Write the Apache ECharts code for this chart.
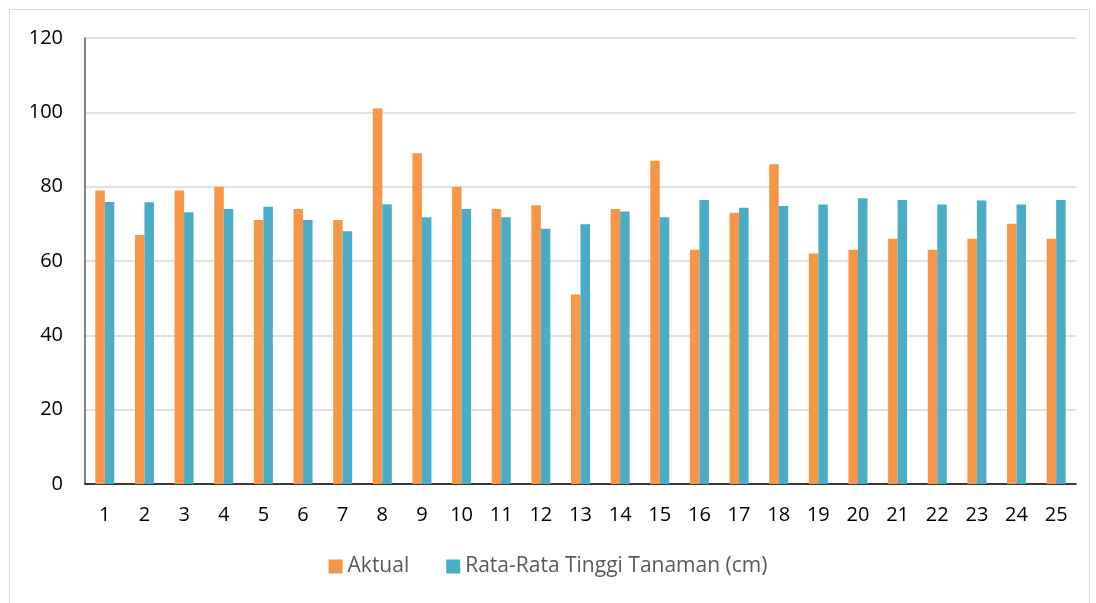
<!DOCTYPE html>
<html>
<head>
<meta charset="utf-8">
<script src="https://cdn.jsdelivr.net/npm/echarts@6/dist/echarts.min.js"></script>
<style>html,body{margin:0;padding:0;background:#fff}#c{width:1096px;height:603px}</style>
</head>
<body>
<div id="c"></div>
<script>
const categories = ['1','2','3','4','5','6','7','8','9','10','11','12','13','14','15','16','17','18','19','20','21','22','23','24','25'];
const aktual = [79,67,79,80,71,74,71,101,89,80,74,75,51,74,87,63,73,86,62,63,66,63,66,70,66];
const rataRata = [75.9,75.8,73.1,74,74.6,71,68,75.3,71.8,74,71.8,68.7,69.9,73.3,71.8,76.4,74.3,74.8,75.2,76.9,76.4,75.2,76.3,75.2,76.4];
const yTicks = {min:0, max:120, interval:20};

const FONT = 'Open Sans';
const chart = echarts.init(document.getElementById('c'), null, {renderer:'canvas'});
chart.setOption({
  animation:false,
  backgroundColor:'#fff',
  textStyle:{fontFamily:FONT},
  graphic:[{type:'rect', shape:{x:9.5,y:9.5,width:1080,height:600}, style:{fill:'none',stroke:'#d9d9d9',lineWidth:1}, silent:true}],
  grid:{left:85, right:20, top:38, bottom:119, containLabel:false},
  legend:{
    data:['Aktual','Rata-Rata Tinggi Tanaman (cm)'],
    bottom:21, left:'center',
    itemWidth:14, itemHeight:14, itemGap:37,
    icon:'rect',
    textStyle:{fontFamily:FONT, fontSize:21, color:'#595959'}
  },
  xAxis:{
    type:'category', data:categories,
    axisLine:{show:true, lineStyle:{color:'#000', width:1.5}},
    axisTick:{show:false},
    axisLabel:{color:'#000', fontSize:20, fontFamily:FONT, margin:21}
  },
  yAxis:{
    type:'value', min:yTicks.min, max:yTicks.max, interval:yTicks.interval,
    axisLine:{show:true, lineStyle:{color:'#595959', width:1.5}},
    axisTick:{show:false},
    axisLabel:{color:'#000', fontSize:20, fontFamily:FONT, margin:22},
    splitLine:{show:true, lineStyle:{color:'#d9d9d9', width:1.5}}
  },
  series:[
    {name:'Aktual', type:'bar', data:aktual, barWidth:9.5, barGap:'0%', itemStyle:{color:'#F79646'}},
    {name:'Rata-Rata Tinggi Tanaman (cm)', type:'bar', data:rataRata, barWidth:9.5, barGap:'0%', itemStyle:{color:'#4BACC6'}}
  ]
});
</script>
</body>
</html>
